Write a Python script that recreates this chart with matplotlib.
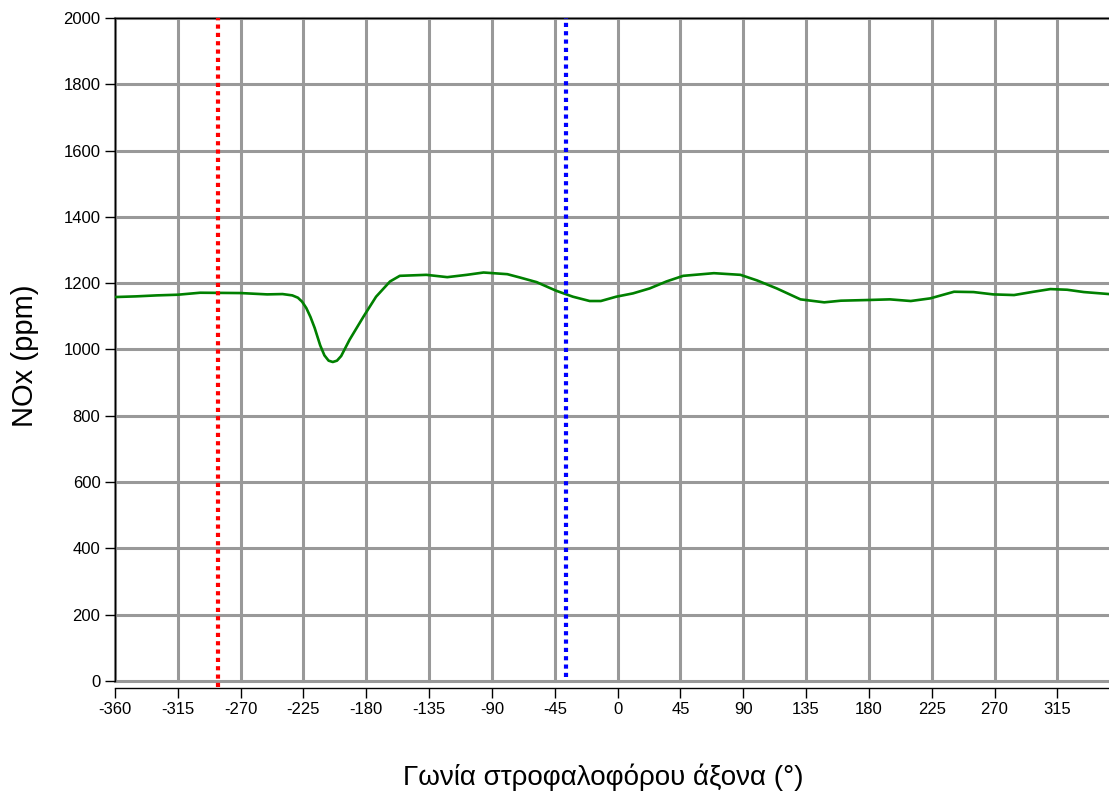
import matplotlib
matplotlib.use("Agg")
import matplotlib.pyplot as plt

# crank angle (deg) and NOx (ppm)
angle = [-360, -345, -330, -315, -299, -270, -251, -240, -233, -229, -226, -223,
         -220, -217, -213, -210, -207, -204, -201, -198, -192, -182, -173, -163,
         -156, -137, -122, -108, -96, -79, -70, -58, -44, -32, -20, -12, -1, 11,
         23, 35, 47, 69, 88, 100, 114, 131, 148, 160, 179, 195, 210, 224, 241,
         255, 269, 284, 298, 310, 322, 334, 352]
nox = [1158, 1160, 1163, 1165, 1171, 1170, 1166, 1167, 1163, 1156, 1144, 1125,
       1098, 1065, 1012, 982, 966, 962, 966, 980, 1029, 1099, 1159, 1205,
       1222, 1225, 1218, 1225, 1232, 1227, 1217, 1203, 1177, 1159, 1146, 1146,
       1159, 1169, 1184, 1205, 1222, 1230, 1225, 1208, 1184, 1151, 1142, 1147,
       1149, 1151, 1146, 1154, 1174, 1173, 1166, 1164, 1174, 1182, 1180, 1173,
       1167]

red_mark = -286
blue_mark = -37

x_ticks = list(range(-360, 316, 45))
y_ticks = list(range(0, 2001, 200))

plt.rcParams["font.family"] = ["Liberation Sans", "DejaVu Sans"]
plt.rcParams["axes.unicode_minus"] = False

fig = plt.figure(figsize=(11.09, 8), dpi=100)
ax = fig.add_axes([0.1037, 0.149, 0.8963, 0.8285])

ax.set_xlim(-360, 352)
ax.set_ylim(0, 2000)
ax.set_xticks(x_ticks)
ax.set_yticks(y_ticks)
ax.grid(True, color="#999999", linewidth=2.2, zorder=0, clip_on=False)
ax.set_axisbelow(True)

ax.plot(angle, nox, color="#008000", linewidth=1.9, zorder=3)
ax.plot([red_mark, red_mark], [-20, 2000], color="#ff0000", linewidth=3,
        linestyle=(0, (1, 1)), clip_on=False, zorder=4)
ax.plot([blue_mark, blue_mark], [12, 2000], color="#0000ff", linewidth=3,
        linestyle=(0, (1, 1)), zorder=4)

ax.spines["right"].set_visible(False)
ax.spines["bottom"].set_position(("outward", 5))
for s in ax.spines.values():
    s.set_linewidth(1.0)
ax.tick_params(axis="both", direction="out", length=7, width=1, labelsize=12)

ax.set_ylabel("NOx (ppm)", fontsize=21)
ax.yaxis.set_label_coords(-0.076, 0.49)
ax.set_xlabel("Γωνία στροφαλοφόρου άξονα (°)", fontsize=20)
ax.xaxis.set_label_coords(0.491, -0.125)

fig.savefig("out.png", dpi=100)
